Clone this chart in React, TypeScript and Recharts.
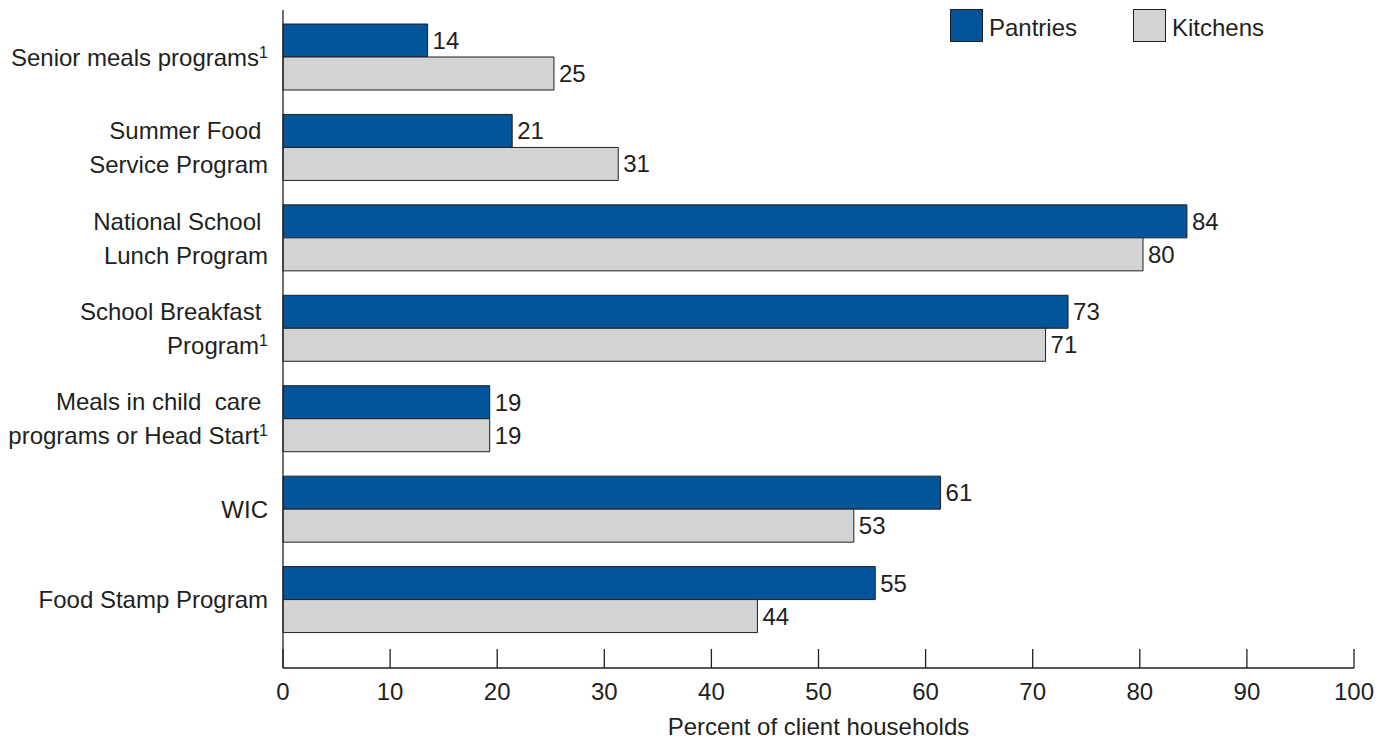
import React from "react";
import { BarChart, Bar, XAxis, YAxis, Legend, LabelList } from "recharts";

const categories = [
  "Senior meals programs",
  "Summer Food \nService Program",
  "National School \nLunch Program",
  "School Breakfast \nProgram",
  "Meals in child  care \nprograms or Head Start",
  "WIC",
  "Food Stamp Program",
];
const footnoted = [true, false, false, true, true, false, false];
// bar lengths as drawn; labels show them rounded
const pantries = [13.5, 21.4, 84.4, 73.3, 19.3, 61.4, 55.3];
const kitchens = [25.3, 31.3, 80.3, 71.2, 19.3, 53.3, 44.3];
const percentTicks = [0, 10, 20, 30, 40, 50, 60, 70, 80, 90, 100];
const seriesOrder = ["Pantries", "Kitchens"];

const data = categories.map((name, i) => ({ name, pantries: pantries[i], kitchens: kitchens[i] }));

const INK = "#231f20";
const BLUE = "#02559a";
const GRAY = "#d1d3d4";
const FONT = "'Liberation Sans', Arial, Helvetica, sans-serif";
const FS = 24;

function CategoryTick(props: any) {
  const { x, y, payload } = props;
  const lines = String(payload.value).split("\n");
  const note = footnoted[categories.indexOf(payload.value)];
  const gap = 34;
  const top = y - ((lines.length - 1) * gap) / 2 + 8.5;
  return (
    <text x={x} y={top} textAnchor="end" fill={INK} fontSize={FS} fontFamily={FONT} style={{ whiteSpace: "pre" }}>
      {lines.map((line, i) => (
        <tspan key={i} x={x} y={top + i * gap}>
          {line}
          {note && i === lines.length - 1 ? (
            <tspan fontSize={16} dy={-8}>1</tspan>
          ) : null}
        </tspan>
      ))}
    </text>
  );
}

function PercentTick(props: any) {
  const { x, y, payload } = props;
  return (
    <g>
      <line x1={x} x2={x} y1={y} y2={y - 19} stroke={INK} strokeWidth={1.3} />
      <text x={x} y={y + 32} textAnchor="middle" fill={INK} fontSize={FS} fontFamily={FONT}>
        {payload.value}
      </text>
    </g>
  );
}

function LegendBox(props: any) {
  const items = [...(props.payload || [])].sort(
    (a: any, b: any) => seriesOrder.indexOf(a.value) - seriesOrder.indexOf(b.value)
  );
  return (
    <div style={{ display: "flex", fontFamily: FONT, fontSize: FS, color: INK }}>
      {items.map((it: any, i: number) => (
        <div key={it.value} style={{ display: "flex", alignItems: "center", width: i === 0 ? 183 : "auto" }}>
          <span
            style={{
              width: 33,
              height: 33,
              background: it.color,
              border: `1.3px solid ${INK}`,
              boxSizing: "border-box",
              marginRight: 6,
            }}
          />
          <span style={{ marginTop: 4 }}>{it.value}</span>
        </div>
      ))}
    </div>
  );
}

const rounded = (v: any) => Math.round(Number(v));

export default function App() {
  return (
    <div style={{ position: "absolute", left: 0, top: 0 }}>
      <BarChart
        width={1386}
        height={740}
        data={data}
        layout="vertical"
        margin={{ top: 10, right: 32, left: 0, bottom: 0 }}
        barSize={33}
        barGap={0}
      >
        <XAxis
          type="number"
          domain={[0, 100]}
          ticks={percentTicks}
          height={72}
          tickLine={false}
          tickSize={0}
          tickMargin={0}
          axisLine={{ stroke: INK, strokeWidth: 1.3 }}
          tick={<PercentTick />}
          label={{ value: "Percent of client households", position: "insideBottom", offset: 5, fill: INK, fontSize: FS, fontFamily: FONT }}
        />
        <YAxis
          type="category"
          dataKey="name"
          width={283}
          padding={{ top: 2, bottom: 23 }}
          tickLine={false}
          tickSize={0}
          tickMargin={15}
          interval={0}
          axisLine={{ stroke: INK, strokeWidth: 1.3 }}
          tick={<CategoryTick />}
        />
        <Legend
          layout="horizontal"
          verticalAlign="middle"
          align="center"
          content={<LegendBox />}
          wrapperStyle={{ top: 9, left: 950, width: "auto" }}
        />
        <Bar dataKey="pantries" name="Pantries" fill={BLUE} stroke={INK} strokeWidth={1} isAnimationActive={false}>
          <LabelList dataKey="pantries" position="right" offset={5} formatter={rounded} fill={INK} fontSize={FS} fontFamily={FONT} />
        </Bar>
        <Bar dataKey="kitchens" name="Kitchens" fill={GRAY} stroke={INK} strokeWidth={1} isAnimationActive={false}>
          <LabelList dataKey="kitchens" position="right" offset={5} formatter={rounded} fill={INK} fontSize={FS} fontFamily={FONT} />
        </Bar>
      </BarChart>
    </div>
  );
}
